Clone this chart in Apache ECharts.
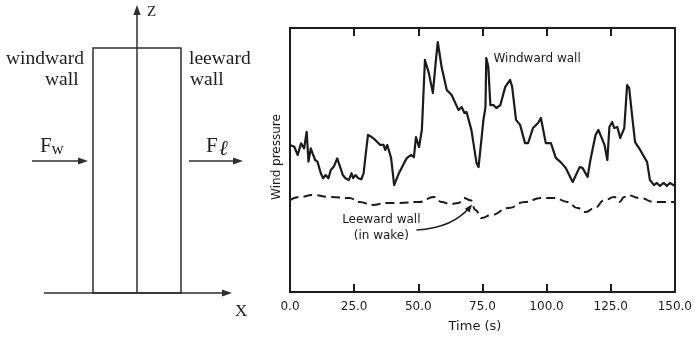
<!DOCTYPE html>
<html>
<head>
<meta charset="utf-8">
<script src="https://cdn.jsdelivr.net/npm/echarts@6/dist/echarts.min.js"></script>
<style>
  html, body { margin: 0; padding: 0; background: #ffffff; }
  #chart { width: 695px; height: 338px; }
</style>
</head>
<body>
<div id="chart"></div>
<script>
// Time axis tick labels (seconds)
const timeTickLabels = ['0.0', '25.0', '50.0', '75.0', '100.0', '125.0', '150.0'];

// Windward wall pressure record (relative units, 0–100 across the plot height)
const windwardTime = [
  0, 1.7, 3.0, 4.3, 5.5, 6.5, 7.2, 8.1, 8.8, 9.8, 10.7, 12.0, 12.9, 13.9, 15.0,
  15.9, 17.1, 18.4, 19.7, 20.6, 21.6, 22.9, 24.0, 24.6, 25.5, 26.6, 27.8, 28.7,
  29.4, 30.4, 31.7, 33.2, 35.2, 36.5, 37.1, 37.9, 39.4, 40.6, 42.5, 44.5, 45.6,
  47.2, 48.3, 49.1, 50.3, 51.4, 52.6, 54.1, 55.7, 56.8, 57.6, 59.1, 61.1, 63.0,
  65.7, 66.9, 68.0, 68.8, 70.7, 72.7, 73.5, 75.4, 76.2, 76.5, 77.3, 78.1, 79.3,
  80.4, 82.0, 83.9, 85.8, 86.6, 88.1, 89.7, 91.6, 92.8, 94.7, 96.7, 97.8, 99.7,
  101.7, 103.6, 105.5, 107.5, 109.4, 110.2, 112.9, 114.0, 116.0, 117.1, 119.1,
  120.2, 121.0, 122.6, 123.7, 124.5, 125.6, 126.4, 127.6, 128.7, 130.3, 131.4,
  132.2, 133.4, 134.5, 136.5, 139.2, 140.3, 141.9, 143.0, 144.2, 145.7, 146.9,
  148.1, 150
];
const windwardPressure = [
  55.7, 55.0, 51.9, 56.3, 54.4, 60.7, 49.4, 54.4, 52.5, 50.0, 49.4, 45.0, 43.1,
  44.3, 43.1, 46.2, 47.5, 50.6, 46.9, 44.3, 43.1, 42.4, 45.0, 43.1, 44.3, 43.1,
  42.7, 45.0, 51.2, 59.5, 58.8, 57.6, 55.7, 55.7, 53.8, 55.7, 50.8, 40.5, 45.1,
  48.9, 50.8, 51.9, 51.1, 58.7, 54.9, 61.4, 87.9, 83.0, 75.4, 87.1, 94.7, 85.2,
  76.5, 74.6, 68.9, 70.1, 67.8, 68.2, 61.4, 48.9, 47.3, 65.2, 70.1, 88.6, 85.2,
  70.8, 70.8, 69.7, 70.8, 77.7, 80.3, 77.7, 65.2, 63.3, 56.4, 56.4, 62.1, 64.0,
  65.9, 56.4, 56.4, 50.8, 49.2, 47.0, 43.2, 41.7, 47.3, 47.0, 43.6, 50.0, 59.5,
  61.4, 59.5, 55.7, 50.0, 62.5, 64.4, 62.1, 62.5, 58.3, 62.1, 78.4, 77.3, 66.3,
  56.8, 53.8, 49.2, 42.4, 40.5, 41.3, 40.2, 41.3, 40.2, 41.3, 40.2
];

// Leeward wall pressure record (in the wake)
const leewardTime = [
  0, 3.9, 8.9, 15.5, 23.2, 27.1, 32.1, 37.5, 42.5, 50.3, 56.1, 59.1, 62.6, 65.7,
  67.7, 70.4, 72.3, 74.6, 78.5, 85.1, 91.6, 97.8, 103.2, 108.2, 112.1, 115.2,
  118.7, 122.6, 126.4, 128.4, 130.3, 131.4, 136.5, 141.9, 150
];
const leewardPressure = [
  34.8, 36.0, 36.7, 36.0, 35.6, 34.1, 33.0, 33.7, 33.7, 34.1, 36.0, 34.1, 33.3,
  33.7, 35.6, 34.8, 31.1, 28.0, 29.2, 31.8, 34.1, 35.6, 35.6, 34.1, 31.8, 30.3,
  31.8, 34.8, 36.0, 34.1, 36.0, 36.7, 35.6, 34.1, 34.1
];

// Annotation anchors in data space [time, pressure]
const windwardLabelAt = [79.3, 88.3];
const leewardLabelAt = [35.6, 27.3];
const wakeLabelAt = [35.6, 21.2];
const leaderStart = [49.3, 23.5];
const leaderControl = [63.8, 24.3];
const leaderEnd = [70.4, 32.6];

const INK = '#1b1b1b';
const SANS = '"DejaVu Sans", sans-serif';
const SERIF = '"Liberation Serif", "Times New Roman", serif';

const pairs = (xs, ys) => xs.map((x, i) => [x, ys[i]]);

const chart = echarts.init(document.getElementById('chart'), null, { renderer: 'canvas' });

const frameLine = { show: true, onZero: false, lineStyle: { color: INK, width: 2 } };
const innerTick = { show: true, inside: true, length: 8, lineStyle: { color: INK, width: 2 } };

chart.setOption({
  animation: false,
  backgroundColor: '#ffffff',
  grid: { left: 290, right: 17, top: 28, bottom: 46 },
  xAxis: [
    {
      type: 'value', position: 'bottom', min: 0, max: 150, interval: 25,
      axisLine: frameLine, axisTick: innerTick,
      axisLabel: {
        margin: 9, color: INK, fontFamily: SANS, fontSize: 12,
        formatter: v => timeTickLabels[Math.round(v / 25)]
      },
      splitLine: { show: false }
    },
    {
      type: 'value', position: 'top', min: 0, max: 150, interval: 25,
      axisLine: frameLine, axisTick: innerTick,
      axisLabel: { show: false },
      splitLine: { show: false }
    }
  ],
  yAxis: [
    {
      type: 'value', position: 'left', min: 0, max: 100,
      axisLine: frameLine,
      axisTick: { show: false }, axisLabel: { show: false }, splitLine: { show: false }
    },
    {
      type: 'value', position: 'right', min: 0, max: 100,
      axisLine: frameLine,
      axisTick: { show: false }, axisLabel: { show: false }, splitLine: { show: false }
    }
  ],
  series: [
    {
      name: 'Windward wall', type: 'line', xAxisIndex: 0, yAxisIndex: 0,
      data: pairs(windwardTime, windwardPressure),
      showSymbol: false, smooth: false,
      lineStyle: { color: INK, width: 2.2, join: 'round' }
    },
    {
      name: 'Leeward wall (in wake)', type: 'line', xAxisIndex: 0, yAxisIndex: 0,
      data: pairs(leewardTime, leewardPressure),
      showSymbol: false, smooth: true, smoothMonotone: 'x',
      lineStyle: { color: INK, width: 2, type: [9, 5] }
    }
  ]
});

// Pixel helpers for annotations placed in data space
const px = p => chart.convertToPixel({ gridIndex: 0 }, p);

function arrowHead(tip, from, len, half) {
  const dx = tip[0] - from[0], dy = tip[1] - from[1];
  const d = Math.hypot(dx, dy) || 1;
  const ux = dx / d, uy = dy / d;
  const bx = tip[0] - ux * len, by = tip[1] - uy * len;
  return [tip, [bx - uy * half, by + ux * half], [bx + uy * half, by - ux * half]];
}

const ls = px(leaderStart), lc = px(leaderControl), le = px(leaderEnd);
const wl = px(windwardLabelAt), ll = px(leewardLabelAt), wk = px(wakeLabelAt);

// Building schematic (left panel): wall elevation with z/x axes and force arrows
const DIAG = '#2e2e2e';
const diagramLines = [
  { type: 'line', shape: { x1: 137, y1: 293, x2: 137, y2: 12 } },
  { type: 'line', shape: { x1: 44, y1: 293, x2: 224, y2: 293 } },
  { type: 'line', shape: { x1: 32, y1: 161, x2: 82, y2: 161 } },
  { type: 'line', shape: { x1: 189, y1: 161, x2: 237, y2: 161 } }
].map(el => Object.assign(el, { style: { stroke: DIAG, lineWidth: 1.5 } }));

const heads = [
  [[137, 5], [137, 20]],
  [[232, 293], [215, 293]],
  [[88, 161], [75, 161]],
  [[243, 161], [230, 161]]
].map(([tip, from]) => ({
  type: 'polygon',
  shape: { points: arrowHead(tip, from, 10, 3.6) },
  style: { fill: DIAG }
}));

const serifText = (text, x, y, size, extra) => ({
  type: 'text', x, y,
  style: Object.assign({
    text, fill: '#1e1e1e', font: size + 'px ' + SERIF,
    textAlign: 'left', textVerticalAlign: 'middle'
  }, extra || {})
});

chart.setOption({
  graphic: [
    ...diagramLines,
    ...heads,
    {
      type: 'rect', shape: { x: 93, y: 48, width: 88, height: 245 },
      style: { fill: null, stroke: DIAG, lineWidth: 1.5 }
    },
    serifText('windward', 6, 59, 19.5),
    serifText('wall', 45, 80, 19.5),
    serifText('leeward', 189, 59, 19.5),
    serifText('wall', 190, 80, 19.5),
    serifText('F', 40, 146, 21),
    serifText('w', 51.5, 150, 17),
    serifText('F', 206, 146, 21),
    serifText('\u2113', 219, 149, 21, { font: 'italic 21px ' + SERIF }),
    serifText('Z', 147, 12.5, 15),
    serifText('X', 235, 312, 17),

    // Axis titles of the pressure record
    {
      type: 'text', x: 277, y: 157, rotation: Math.PI / 2,
      style: {
        text: 'Wind pressure', fill: INK, font: '12px ' + SANS,
        textAlign: 'center', textVerticalAlign: 'middle'
      }
    },
    {
      type: 'text', x: 475, y: 327,
      style: {
        text: 'Time (s)', fill: INK, font: '13px ' + SANS,
        textAlign: 'center', textVerticalAlign: 'middle'
      }
    },

    // Series annotations
    {
      type: 'text', x: wl[0], y: wl[1],
      style: {
        text: 'Windward wall', fill: INK, font: '12px ' + SANS,
        textAlign: 'left', textVerticalAlign: 'middle'
      }
    },
    {
      type: 'text', x: ll[0], y: ll[1],
      style: {
        text: 'Leeward wall', fill: INK, font: '12px ' + SANS,
        textAlign: 'center', textVerticalAlign: 'middle'
      }
    },
    {
      type: 'text', x: wk[0], y: wk[1],
      style: {
        text: '(in wake)', fill: INK, font: '12px ' + SANS,
        textAlign: 'center', textVerticalAlign: 'middle'
      }
    },
    {
      type: 'bezierCurve',
      shape: { x1: ls[0], y1: ls[1], x2: le[0], y2: le[1], cpx1: lc[0], cpy1: lc[1] },
      style: { stroke: INK, lineWidth: 1.5, fill: null }
    },
    {
      type: 'polygon',
      shape: { points: arrowHead([le[0] + 1.5, le[1] - 1.5], lc, 8, 3) },
      style: { fill: INK }
    }
  ]
});
</script>
</body>
</html>
